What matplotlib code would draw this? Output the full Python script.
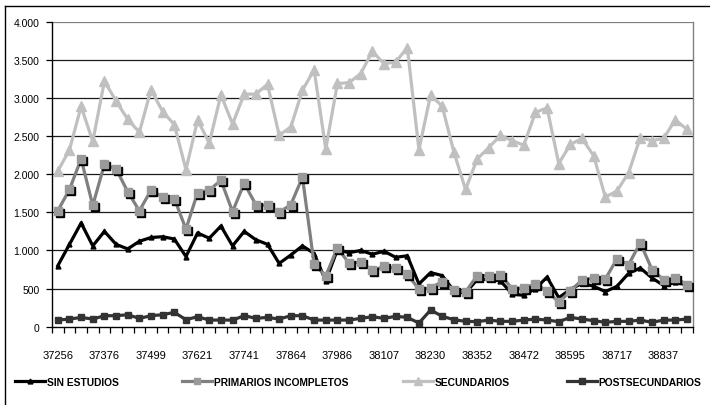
import matplotlib
matplotlib.use('Agg')
import matplotlib.pyplot as plt
from matplotlib import transforms
from matplotlib.lines import Line2D
from matplotlib.ticker import FixedLocator, FuncFormatter
import numpy as np
import pandas as pd

# Monthly categories, shown as Excel date serial numbers
fechas = pd.date_range('2001-12-31', periods=55, freq='ME')
categorias = [(d - pd.Timestamp('1899-12-30')).days for d in fechas]

sin_estudios = [800, 1080, 1360, 1060, 1250, 1080, 1020, 1120, 1170, 1180,
                1150, 920, 1230, 1160, 1320, 1060, 1250, 1140, 1080, 830,
                940, 1060, 960, 600, 1010, 970, 1000, 950, 990, 910,
                930, 560, 710, 670, 470, 440, 620, 620, 600, 430,
                410, 500, 650, 380, 490, 570, 530, 460, 530, 700,
                770, 640, 540, 580, 550]
primarios_incompletos = [1520, 1800, 2200, 1590, 2130, 2070, 1770, 1520, 1790, 1700,
                         1680, 1280, 1760, 1790, 1920, 1510, 1880, 1600, 1590, 1500,
                         1600, 1960, 820, 665, 1035, 830, 850, 740, 790, 765,
                         690, 490, 510, 590, 480, 455, 670, 670, 680, 500,
                         510, 560, 470, 320, 465, 615, 640, 625, 890, 815,
                         1100, 750, 615, 645, 550]
secundarios = [2040, 2320, 2890, 2430, 3220, 2960, 2720, 2550, 3110, 2820,
               2650, 2060, 2710, 2410, 3040, 2660, 3050, 3050, 3180, 2510,
               2620, 3100, 3370, 2330, 3190, 3200, 3320, 3610, 3450, 3470,
               3660, 2320, 3040, 2890, 2290, 1800, 2200, 2350, 2510, 2440,
               2380, 2810, 2870, 2140, 2390, 2470, 2240, 1700, 1780, 2020,
               2480, 2440, 2470, 2710, 2590]
postsecundarios = [87, 100, 122, 100, 144, 144, 157, 109, 144, 157,
                   188, 92, 131, 87, 87, 87, 144, 110, 122, 100,
                   144, 144, 87, 87, 87, 87, 109, 131, 109, 136,
                   122, 48, 219, 136, 92, 70, 66, 87, 70, 70,
                   87, 100, 87, 66, 122, 100, 79, 57, 70, 70,
                   87, 57, 87, 87, 100]
series_nombres = ['SIN ESTUDIOS', 'PRIMARIOS INCOMPLETOS', 'SECUNDARIOS', 'POSTSECUNDARIOS']

FAM = ['Liberation Sans', 'DejaVu Sans']

W, H = 710, 406
fig = plt.figure(figsize=(W / 100, H / 100), dpi=100)
fig.patch.set_facecolor('white')

ax = fig.add_axes([52 / W, 1 - 327.7 / H, (692.7 - 52) / W, (327.7 - 22.7) / H])
x = np.arange(len(categorias))

lw = 2.3
# SIN ESTUDIOS
ax.plot(x, sin_estudios, color='black', lw=lw, marker='^', ms=3.5,
        mfc='black', mec='black', zorder=3)
# PRIMARIOS INCOMPLETOS (with shadowed square markers)
ax.plot(x, primarios_incompletos, color='#808080', lw=lw, zorder=4)
shadow = transforms.offset_copy(ax.transData, fig=fig, x=2, y=-2, units='dots')
ax.plot(x, primarios_incompletos, ls='none', marker='s', ms=5.5, mfc='black',
        mec='black', transform=shadow, zorder=4.1)
ax.plot(x, primarios_incompletos, ls='none', marker='s', ms=5.5, mfc='#9a9a9a',
        mec='#9a9a9a', zorder=4.2)
# SECUNDARIOS
ax.plot(x, secundarios, color='#c0c0c0', lw=lw, marker='^', ms=6.5,
        mfc='#c0c0c0', mec='#c0c0c0', zorder=5)
# POSTSECUNDARIOS
ax.plot(x, postsecundarios, color='#333333', lw=lw, marker='s', ms=5,
        mfc='#333333', mec='#333333', zorder=6)

ax.set_xlim(-0.5, len(categorias) - 0.5)
ax.set_ylim(0, 4000)

# Grid
for v in range(500, 4001, 500):
    ax.axhline(v, color='#1a1a1a' if v < 4000 else '#808080', lw=0.9, zorder=1)

ax.spines['top'].set_visible(False)
ax.spines['right'].set_color('#808080')
ax.spines['right'].set_linewidth(1)
ax.spines['left'].set_color('black')
ax.spines['bottom'].set_color('black')
ax.spines['left'].set_linewidth(1)
ax.spines['bottom'].set_linewidth(1)

# Y axis
yt = np.arange(0, 4001, 500)
ax.set_yticks(yt)
ax.yaxis.set_major_formatter(FuncFormatter(lambda v, p: f"{int(v):,}".replace(',', '.')))
ax.tick_params(axis='y', direction='out', length=4, width=0.9, pad=5,
               labelsize=7.5, colors='black')
for lab in ax.get_yticklabels():
    lab.set_family(FAM)

# X axis: labels every 4th category, tick marks on category boundaries
ax.set_xticks(x[::4])
ax.set_xticklabels([str(c) for c in categorias[::4]], family=FAM, fontsize=8)
ax.tick_params(axis='x', which='major', length=0, pad=17)
ax.xaxis.set_minor_locator(FixedLocator(np.arange(-0.5, len(categorias), 1)))
ax.tick_params(axis='x', which='minor', direction='out', length=4, width=0.9)

# Legend (one entry each, placed like the reference)
handles = [
    Line2D([], [], color='black', lw=lw, marker='^', ms=3.5, mfc='black', mec='black'),
    Line2D([], [], color='#808080', lw=lw, marker='s', ms=5, mfc='#9a9a9a', mec='#9a9a9a'),
    Line2D([], [], color='#c0c0c0', lw=lw, marker='^', ms=6, mfc='#c0c0c0', mec='#c0c0c0'),
    Line2D([], [], color='#333333', lw=lw, marker='s', ms=5, mfc='#333333', mec='#333333'),
]
leg_x = [15, 182, 403, 567]
for h, name, lx in zip(handles, series_nombres, leg_x):
    fig.legend([h], [name], loc='center left', bbox_to_anchor=(lx / W, 1 - 383 / H),
               frameon=False, borderpad=0, borderaxespad=0, handlelength=2.9,
               handletextpad=0.2,
               prop={'family': FAM, 'weight': 'bold', 'size': 7.4})

# Chart area border (top and left visible)
fig.add_artist(Line2D([5 / W, 5 / W], [0, 1 - 7 / H], color='black', lw=1,
                      transform=fig.transFigure))
fig.add_artist(Line2D([5 / W, 1], [1 - 7 / H, 1 - 7 / H], color='black', lw=1,
                      transform=fig.transFigure))

fig.savefig('out.png', dpi=100)
